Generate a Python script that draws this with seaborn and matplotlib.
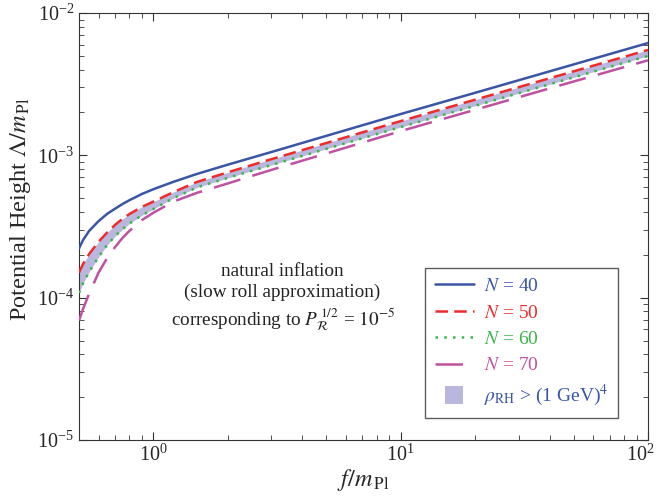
import numpy as np
import pandas as pd
import seaborn as sns
import matplotlib.pyplot as plt
from matplotlib.lines import Line2D
from matplotlib.transforms import ScaledTranslation

f_vals = [0.5, 0.52, 0.55, 0.6, 0.65, 0.7, 0.75, 0.8, 0.9, 1.0, 1.2, 1.5, 2, 3, 5, 10, 20, 50, 100]
n40 = [2.22e-4, 2.55e-4, 2.95e-4, 3.45e-4, 3.88e-4, 4.22e-4, 4.55e-4, 4.84e-4, 5.36e-4, 5.78e-4,
       6.5e-4, 7.4e-4, 8.6e-4, 1.055e-3, 1.37e-3, 1.95e-3, 2.75e-3, 4.35e-3, 6.15e-3]
n50 = [1.5e-4, 1.73e-4, 2.03e-4, 2.47e-4, 2.87e-4, 3.25e-4, 3.58e-4, 3.87e-4, 4.35e-4, 4.73e-4,
       5.5e-4, 6.5e-4, 7.6e-4, 9.4e-4, 1.22e-3, 1.74e-3, 2.46e-3, 3.89e-3, 5.5e-3]
n60 = [1.08e-4, 1.27e-4, 1.52e-4, 1.93e-4, 2.35e-4, 2.7e-4, 3.03e-4, 3.32e-4, 3.8e-4, 4.2e-4,
       4.99e-4, 5.95e-4, 6.95e-4, 8.55e-4, 1.11e-3, 1.58e-3, 2.23e-3, 3.53e-3, 4.99e-3]
n70 = [6.9e-5, 8.4e-5, 1.07e-4, 1.5e-4, 1.9e-4, 2.27e-4, 2.63e-4, 2.95e-4, 3.52e-4, 3.95e-4,
       4.72e-4, 5.45e-4, 6.35e-4, 7.9e-4, 1.03e-3, 1.48e-3, 2.09e-3, 3.3e-3, 4.65e-3]

labels = ["$N$ = 40", "$N$ = 50", "$N$ = 60", "$N$ = 70"]
colors = ["#3a55a6", "#ee2b2b", "#3bb54a", "#c050a2"]
dashes = [None, (5, 2.5), (1, 2.5), (11, 5)]
band_color = "#b9b7dd"

sns.set_style("ticks")
plt.rcParams["font.family"] = ["Liberation Serif", "DejaVu Serif"]
plt.rcParams["mathtext.fontset"] = "stix"
plt.rcParams["xtick.direction"] = "in"
plt.rcParams["ytick.direction"] = "in"

fig = plt.figure(figsize=(6.56, 4.96), dpi=100)
ax = fig.add_axes([0.1204, 0.1129, 0.8674, 0.8609])

# band rho_RH > (1 GeV)^4 between N=50 and N=60
ax.fill_between(f_vals, n60, n50, color=band_color, lw=0, zorder=1)

for vals, lab, c, d in zip([n40, n50, n60, n70], labels, colors, dashes):
    df = pd.DataFrame({"f": f_vals, "L": vals})
    sns.lineplot(data=df, x="f", y="L", ax=ax, color=c, lw=1.8, label=lab, zorder=3)
    if d is not None:
        ax.lines[-1].set_dashes(d)

ax.set_xscale("log")
ax.set_yscale("log")
ax.set_xlim(0.5, 100)
ax.set_ylim(1e-5, 1e-2)

ax.tick_params(which="both", top=True, right=True, labelsize=14.5, color="#333333")
ax.tick_params(which="major", length=6)
ax.tick_params(which="minor", length=3.5)
for s in ax.spines.values():
    s.set_color("#333333")

ax.set_xlabel("$f/m_{\\,\\rm Pl}$", fontsize=17.5, labelpad=1)
ax.set_ylabel("Potential Height $\\Lambda/m_{\\,\\rm Pl}$", fontsize=17.5)
ax.yaxis.set_label_coords(-0.08, 0.54)

ax.text(3.33, 1.0e-4, "natural inflation\n(slow roll approximation)\ncorresponding to $P_{\\mathcal{R}}^{\\,1/2}$ = $10^{-5}$",
        ha="center", va="center", fontsize=13.8, linespacing=1.3, color="#222222")

handles, _ = ax.get_legend_handles_labels()
handles = handles[:4] + [Line2D([], [], ls="none", marker="s", markersize=13,
                                color=band_color, markeredgewidth=0)]
leg_labels = labels + ["$\\rho_{\\rm RH}$ > (1 GeV)$^4$"]
leg = ax.legend(handles, leg_labels, loc="lower right", bbox_to_anchor=(0.947, 0.0515),
                borderaxespad=0, fontsize=14, frameon=True, fancybox=False,
                handlelength=2.0, labelspacing=0.45, borderpad=0.5, handletextpad=0.5,
                labelcolor=colors + ["#3a55a6"])
leg.get_frame().set_edgecolor("#333333")
leg.get_frame().set_linewidth(1.0)

# nudge the 10^2 label left so it stays inside the figure
fig.canvas.draw()
for tick in ax.xaxis.get_major_ticks():
    if np.isclose(tick.get_loc(), 100):
        tick.label1.set_transform(tick.label1.get_transform()
                                  + ScaledTranslation(-0.08, 0, fig.dpi_scale_trans))

fig.savefig("out.png", dpi=100)
